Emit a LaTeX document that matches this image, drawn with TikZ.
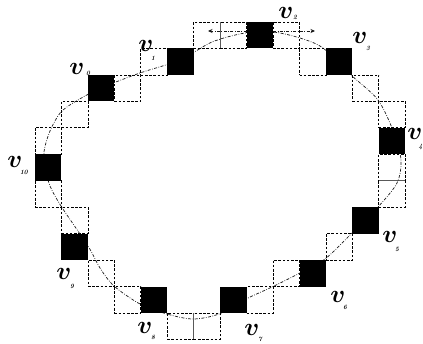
\documentclass[tikz,border=0pt]{standalone}
\usepackage{amsmath}
\usetikzlibrary{arrows.meta,calc}
\begin{document}
\begin{tikzpicture}[x=1pt,y=-1pt,
  cellbox/.style={draw, dash pattern=on 2.6pt off 1.6pt, line width=0.75pt,
    minimum size=26.45pt, inner sep=0pt, outer sep=0pt},
  blk/.style={fill=black, minimum size=26.45pt, inner sep=0pt, outer sep=0pt},
  curve/.style={draw=black!90, line width=0.7pt,
    dash pattern=on 3pt off 1.5pt on 0.7pt off 1.5pt},
  cut/.style={draw=black!65, line width=0.9pt},
  lbl/.style={font=\fontsize{25}{25}\selectfont, inner sep=0pt},
  subl/.style={font=\fontsize{6.5}{7}\selectfont\bfseries\itshape, inner sep=0pt},
  tip/.style={-{Stealth[length=4.5pt,width=4pt]}}
]
\useasboundingbox (0,0) rectangle (423,343);
% dashed cells
\foreach \c/\r [count=\i] in {0/4,1/3,3/2,4/1,6/0,7/0,9/0,10/1,12/2,13/3,13/5,13/6,11/8,9/9,8/10,6/11,5/11,3/10,2/9,1/7,0/6}
  \node[cellbox] (d\i) at ({35+(\c+0.5)*26.45},{22+(\r+0.5)*26.45}) {};
% cuts
\draw[cut] (d5.north east) -- (d5.south east);
\draw[cut] (d11.south west) -- (d11.south east);
\draw[cut] (d17.north east) -- (d17.south east);
% closed curve
\draw[curve] plot[smooth cycle, tension=0.5] coordinates {
  (46,170) (44,152) (50,131) (61,112) (78,100) (101,88) (140,73) (180,60)
  (212,42) (245,33) (273,32) (300,38) (323,48) (351,75) (378,100) (394,133)
  (401,160) (397,183) (378,207) (351,234) (325,259) (298,274) (272,287)
  (246,299) (219,314) (193,319) (167,314) (140,304) (114,286) (100,268)
  (88,246) (61,206) (50,186)};
% black squares
\foreach \n/\c/\r in {0/2/2,1/5/1,2/8/0,3/11/1,4/13/4,5/12/7,6/10/9,7/7/10,8/4/10,9/1/8,10/0/5}
  \node[blk] (v\n) at ({35+(\c+0.5)*26.45},{22+(\r+0.5)*26.45}) {};
% arrows at v2
\coordinate (aL) at (208,31);
\coordinate (aR) at (315,31);
\draw[curve,tip] (v2.west |- aL) -- (aL);
\draw[curve,tip] (v2.east |- aR) -- (aR);
% labels
\foreach \n/\x/\y/\sx/\sy in {0/77/69/88/73, 1/146/46/153/58, 2/286/13/295/17,
  3/360/38/368/48, 4/415/134/420.5/147, 5/390/237/397/249, 6/338/297/345/307,
  7/252/330/260/339, 8/145/328/153/337, 9/64/274/72/286}{
  \node[lbl] (l\n) at (\x,\y) {$\boldsymbol{v}$};
  \node[subl] (s\n) at (\sx,\sy) {\n};
}
\node[lbl] (l10) at (15,162) {$\boldsymbol{v}$};
\node[subl] (s10) at (24,172) {10};
\end{tikzpicture}
\end{document}
